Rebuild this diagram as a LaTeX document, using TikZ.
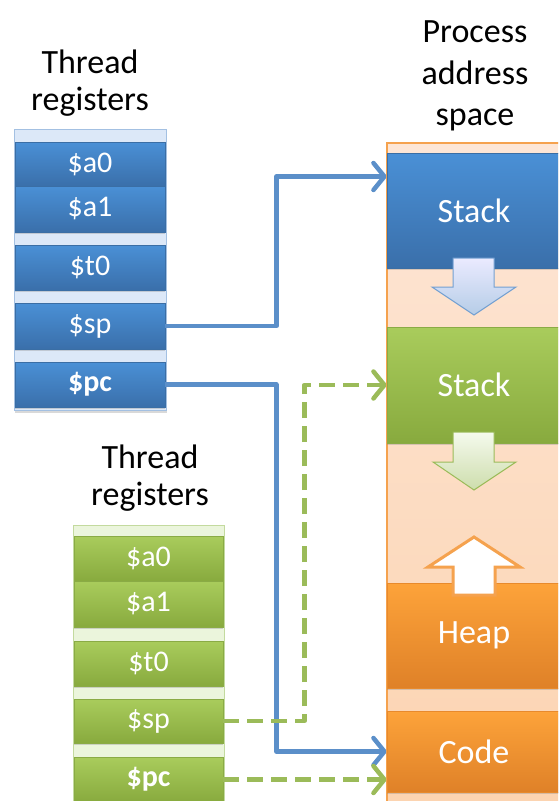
\documentclass[tikz,border=0pt]{standalone}
\usepackage{fontspec}
\setmainfont{Carlito}
\usetikzlibrary{arrows.meta,shadows}
\definecolor{bluetop}{HTML}{4A90D6}
\definecolor{bluebot}{HTML}{3A6FAA}
\definecolor{blueedge}{HTML}{3A6EA5}
\definecolor{bluelight}{HTML}{DCE8F8}
\definecolor{bluelightedge}{HTML}{A3C0E2}
\definecolor{greentop}{HTML}{A9CC5C}
\definecolor{greenbot}{HTML}{88AA3E}
\definecolor{greenedge}{HTML}{8AAB45}
\definecolor{greenlight}{HTML}{EBF5DC}
\definecolor{greenlightedge}{HTML}{C3DA9E}
\definecolor{orangetop}{HTML}{FDA33A}
\definecolor{orangebot}{HTML}{DF8128}
\definecolor{orangeedge}{HTML}{E88A2C}
\definecolor{peachtop}{HTML}{FDE6D6}
\definecolor{peachbot}{HTML}{FCD3B0}
\definecolor{peachedge}{HTML}{F5A24E}
\definecolor{bluecon}{HTML}{5B8FC9}
\definecolor{greencon}{HTML}{9BBB59}
\tikzset{
  blk/.style={rectangle, inner sep=0pt, text=white, line width=0.6pt,
    drop shadow={shadow xshift=0pt, shadow yshift=-2pt, opacity=0.3}},
  blueblk/.style={blk, draw=blueedge, top color=bluetop, bottom color=bluebot,
    minimum width=150pt, font=\fontsize{30}{33}\selectfont},
  greenblk/.style={blk, draw=greenedge, top color=greentop, bottom color=greenbot,
    minimum width=149pt, font=\fontsize{30}{33}\selectfont},
  memblk/.style={blk, minimum width=174pt, font=\fontsize{34}{38}\selectfont},
  title/.style={anchor=base, inner sep=0pt, font=\fontsize{34}{40}\selectfont},
  conn/.style={line width=4.5pt, line join=round,
    -{Straight Barb[length=11pt,width=27pt,round]}},
}
\begin{document}
\begin{tikzpicture}[x=1pt,y=-1pt]
\useasboundingbox (0,0) rectangle (558,801);
\clip (0,0) rectangle (558,801);

% titles
\node[title] (t1a) at (90,73) {Thread};
\node[title] (t1b) at (90,110) {registers};
\node[title] (t2a) at (150,468) {Thread};
\node[title] (t2b) at (150,505) {registers};
\node[title] (t3a) at (475,42) {Process};
\node[title] (t3b) at (475,84) {address};
\node[title] (t3c) at (475,125) {space};

% address space
\node[rectangle, draw=peachedge, line width=1.5pt, top color=peachtop, bottom color=peachbot,
  minimum width=180pt, minimum height=680pt, anchor=north west, inner sep=0pt] (as) at (386,142) {};
\node[memblk, draw=blueedge, top color=bluetop, bottom color=bluebot, minimum height=115pt] (bstack) at (474,210.5) {Stack};
\node[memblk, draw=greenedge, top color=greentop, bottom color=greenbot, minimum height=116pt] (gstack) at (474,385) {Stack};
\node[memblk, draw=orangeedge, top color=orangetop, bottom color=orangebot, minimum height=105pt] (heap) at (474,635.5) {Heap};
\node[memblk, draw=orangeedge, top color=orangetop, bottom color=orangebot, minimum height=81pt] (code) at (474,751.5) {Code};

% growth arrows
\draw[draw=bluecon!85!white, line width=1pt, top color=blue!8!white, bottom color=bluecon!45!white, line join=miter]
  (453,258) -- (494,258) -- (494,287) -- (516,287) -- (474,315) -- (432,287) -- (453,287) -- cycle;
\draw[draw=greencon, line width=1pt, top color=greenlight!50!white, bottom color=greencon!50!white, line join=miter]
  (453,432) -- (494,432) -- (494,462) -- (516,462) -- (474,490) -- (433,462) -- (453,462) -- cycle;
\draw[draw=peachedge, line width=3pt, fill=white, line join=miter]
  (453,595) -- (453,567) -- (428,567) -- (474,537) -- (520,567) -- (495,567) -- (495,595) -- cycle;

% thread 1 registers
\node[rectangle, draw=bluelightedge, fill=bluelight, line width=1pt, anchor=north west,
  minimum width=152pt, minimum height=281pt, inner sep=0pt,
  drop shadow={shadow xshift=0pt, shadow yshift=-2pt, opacity=0.3}] (reg1) at (14,129) {};
\node[blueblk, minimum height=44pt] (ra0) at (90,164) {\$a0};
\node[blueblk, minimum height=46pt] (ra1) at (90,209) {\$a1};
\node[blueblk, minimum height=45pt] (rt0) at (90,267.5) {\$t0};
\node[blueblk, minimum height=46pt] (rsp) at (90,326) {\$sp};
\node[blueblk, minimum height=45pt] (rpc) at (90,384.5) {\textbf{\$pc}};

% thread 2 registers
\node[rectangle, draw=greenlightedge, fill=greenlight, line width=1pt, anchor=north west,
  minimum width=151pt, minimum height=290pt, inner sep=0pt] (reg2) at (73,525) {};
\node[greenblk, minimum height=45pt] (ga0) at (148.5,558.5) {\$a0};
\node[greenblk, minimum height=46pt] (ga1) at (148.5,604) {\$a1};
\node[greenblk, minimum height=45pt] (gt0) at (148.5,663.5) {\$t0};
\node[greenblk, minimum height=44pt] (gsp) at (148.5,721) {\$sp};
\node[greenblk, minimum height=45pt] (gpc) at (148.5,779.5) {\textbf{\$pc}};

% connectors
\draw[conn, bluecon] (rsp.east) -- ++(111,0) |- ([yshift=34pt]bstack.west);
\draw[conn, bluecon] (rpc.east) -- ++(111,0) |- (code.west);
\draw[conn, greencon, dash pattern=on 16pt off 8pt] (gsp.east) -- ++(81,0) |- (gstack.west);
\draw[conn, greencon, dash pattern=on 16pt off 8pt] (gpc.east) -- (gpc.east -| code.west);
\end{tikzpicture}
\end{document}
